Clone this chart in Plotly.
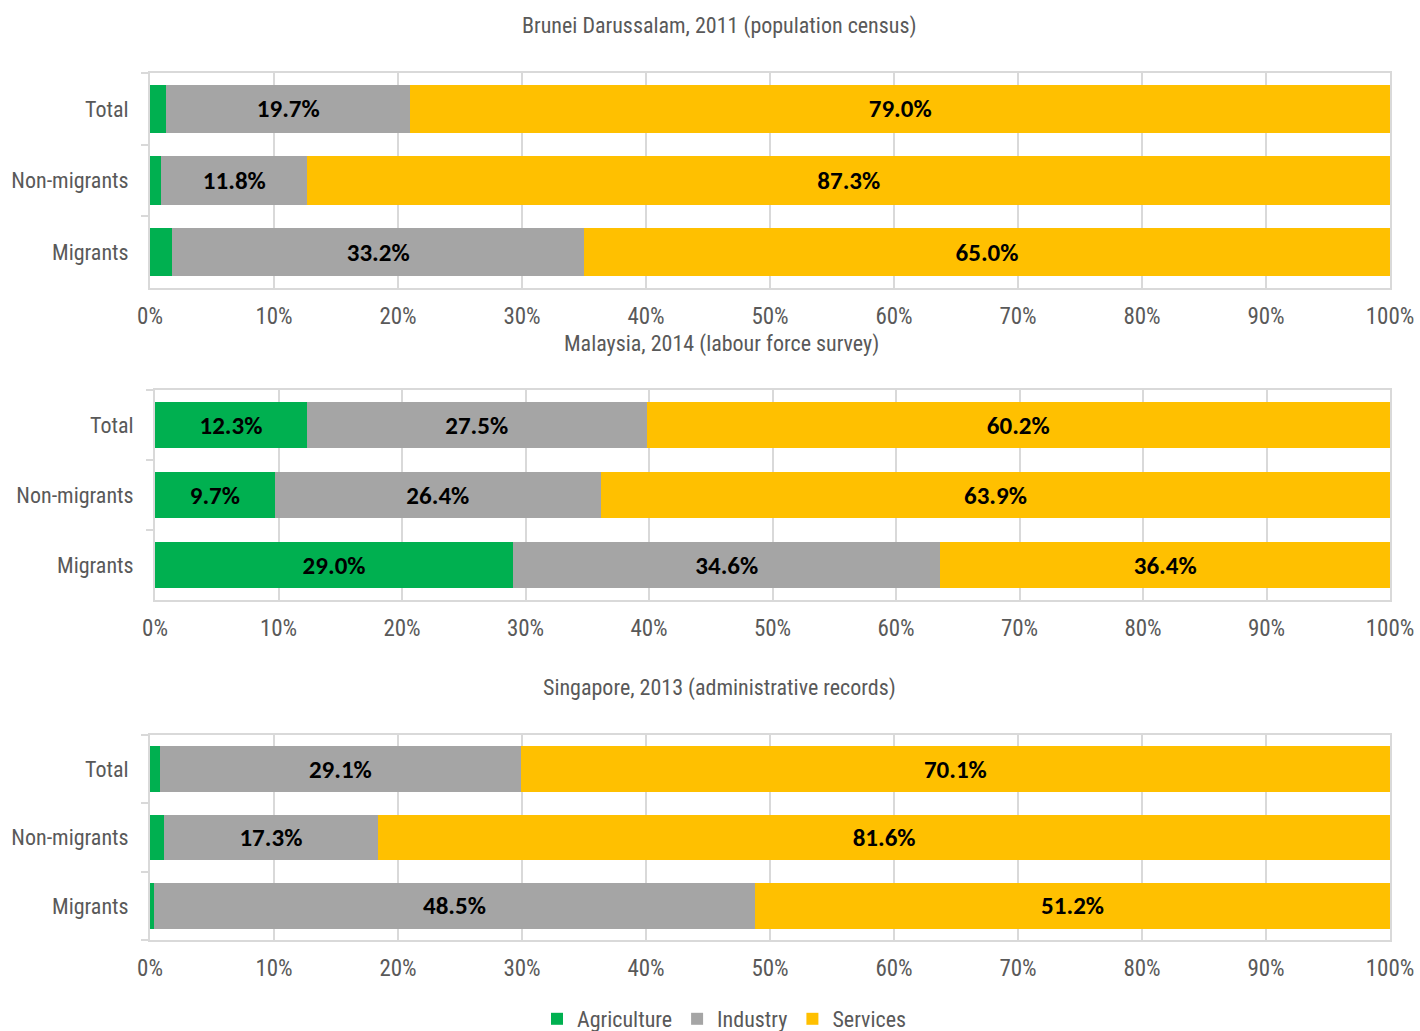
import plotly.graph_objects as go

groups = ["Total", "Non-migrants", "Migrants"]
sectors = ["Agriculture", "Industry", "Services"]
colors = {"Agriculture": "#00B050", "Industry": "#A5A5A5", "Services": "#FFC000"}

titles = [
    "Brunei Darussalam, 2011 (population census)",
    "Malaysia, 2014 (labour force survey)",
    "Singapore, 2013 (administrative records)",
]

# values per panel, order: Total, Non-migrants, Migrants
brunei_agri = [1.3, 0.9, 1.8]
brunei_ind = [19.7, 11.8, 33.2]
brunei_serv = [79.0, 87.3, 65.0]

malaysia_agri = [12.3, 9.7, 29.0]
malaysia_ind = [27.5, 26.4, 34.6]
malaysia_serv = [60.2, 63.9, 36.4]

singapore_agri = [0.8, 1.1, 0.3]
singapore_ind = [29.1, 17.3, 48.5]
singapore_serv = [70.1, 81.6, 51.2]

panels = [
    {"Agriculture": brunei_agri, "Industry": brunei_ind, "Services": brunei_serv},
    {"Agriculture": malaysia_agri, "Industry": malaysia_ind, "Services": malaysia_serv},
    {"Agriculture": singapore_agri, "Industry": singapore_ind, "Services": singapore_serv},
]

x_ticks = list(range(0, 101, 10))
x_ticklabels = [f"{t}%" for t in x_ticks]

W, H = 1420, 1031
# pixel boxes (left, right, top, bottom) for each plot area
boxes = [(150, 1390, 73, 288), (155, 1390, 390, 600), (150, 1390, 735, 940)]
title_pos = [(719, 26), (721, 344), (719, 688)]

NARROW = "Roboto Condensed, Liberation Sans Narrow, Arial Narrow, sans-serif"
LABEL_FONT = "Carlito, Calibri, Lato, sans-serif"
GRAY_TXT = "#595959"
GRID = "#D9D9D9"

fig = go.Figure()
layout = {}
annotations = []
for i, (data, box, title) in enumerate(zip(panels, boxes, titles)):
    n = "" if i == 0 else str(i + 1)
    xa, ya = "x" + n, "y" + n
    for s in sectors:
        vals = data[s]
        fig.add_trace(go.Bar(
            y=groups, x=vals, orientation="h", name=s,
            marker=dict(color=colors[s], line=dict(width=0)),
            text=[f"{v:.1f}%" if v >= 5 else "" for v in vals],
            textposition="inside", insidetextanchor="middle", textangle=0,
            constraintext="none",
            textfont=dict(family=LABEL_FONT, size=25, color="black", weight="bold"),
            xaxis=xa, yaxis=ya, showlegend=(i == 0), legendgroup=s,
            hoverinfo="skip",
        ))
    l, r, t, b = box
    layout["xaxis" + n] = dict(
        domain=[l / W, r / W], anchor=ya, range=[0, 100],
        tickvals=x_ticks, ticktext=x_ticklabels,
        showgrid=True, gridcolor=GRID, gridwidth=2,
        showline=True, linecolor=GRID, linewidth=2, mirror=True,
        zeroline=False, ticks="", automargin=False,
        tickfont=dict(family=NARROW, size=23, color=GRAY_TXT),
        ticklabelstandoff=6,
        fixedrange=True,
    )
    layout["yaxis" + n] = dict(
        domain=[1 - b / H, 1 - t / H], anchor=xa,
        categoryorder="array", categoryarray=groups[::-1],
        showline=True, linecolor=GRID, linewidth=2, mirror=True,
        ticks="outside", tickson="boundaries", ticklen=7, tickcolor=GRID, tickwidth=2,
        showgrid=False, zeroline=False, automargin=False,
        tickfont=dict(family=NARROW, size=22, color=GRAY_TXT),
        ticklabelstandoff=15,
        fixedrange=True,
    )
    tx, ty = title_pos[i]
    annotations.append(dict(
        text=title, x=tx / W, y=1 - ty / H, xref="paper", yref="paper",
        xanchor="center", yanchor="middle", showarrow=False,
        font=dict(family=NARROW, size=22, color=GRAY_TXT),
    ))

fig.update_layout(
    **layout,
    annotations=annotations,
    barmode="stack", bargap=0.33,
    width=W, height=H,
    margin=dict(l=0, r=0, t=0, b=0, autoexpand=False),
    paper_bgcolor="white", plot_bgcolor="white",
    legend=dict(
        orientation="h", xref="container", yref="container",
        x=724 / W, y=1 - 1019 / H, xanchor="center", yanchor="middle",
        font=dict(family=NARROW, size=22, color=GRAY_TXT),
        itemwidth=30, tracegroupgap=0,
    ),
    uniformtext=dict(mode=False),
)

fig.write_html("out.html")
